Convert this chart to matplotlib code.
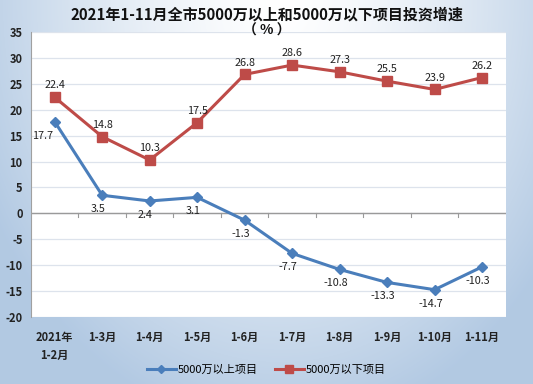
import numpy as np
import matplotlib
matplotlib.use("Agg")
import matplotlib.pyplot as plt

plt.rcParams['font.family'] = ['Noto Sans CJK SC', 'DejaVu Sans']

# -----------------------------
# Data
# -----------------------------
categories = ["2021年\n1-2月", "1-3月", "1-4月", "1-5月", "1-6月",
              "1-7月", "1-8月", "1-9月", "1-10月", "1-11月"]
above_5000 = [17.7, 3.5, 2.4, 3.1, -1.3, -7.7, -10.8, -13.3, -14.7, -10.3]
below_5000 = [22.4, 14.8, 10.3, 17.5, 26.8, 28.6, 27.3, 25.5, 23.9, 26.2]
yticks = list(range(-20, 40, 5))

BLUE = "#4a7ebb"
RED = "#be4b48"

fig = plt.figure(figsize=(5.33, 3.84), dpi=100)

# gradient background (white at top centre, blue to the edges)
bg = fig.add_axes([0, 0, 1, 1], zorder=-10)
h, w = 384, 533
yy, xx = np.mgrid[0:h, 0:w]
d = np.sqrt(((xx - 280) / 330.0) ** 2 + ((yy - 0) / 430.0) ** 2)
t = np.clip(d, 0, 1) ** 1.4
white = np.array([1.0, 1.0, 1.0])
blue = np.array([0.70, 0.79, 0.89])
img = white[None, None, :] * (1 - t[..., None]) + blue[None, None, :] * t[..., None]
bg.imshow(img, aspect="auto", extent=[0, 1, 0, 1], origin="upper")
bg.axis("off")

ax = fig.add_axes([0.058, 0.174, 0.891, 0.743])
ax.set_facecolor("white")
x = np.arange(len(categories))

ax.set_ylim(-20, 35)
ax.set_xlim(-0.5, len(categories) - 0.5)
ax.set_yticks(yticks)
ax.set_yticklabels([str(v) for v in yticks], fontsize=8, fontweight="bold", color="#222222")
ax.yaxis.grid(True, color="#dde3ec", linewidth=0.9)
ax.set_axisbelow(True)
ax.tick_params(axis="y", length=0, pad=6)

for s in ["top", "right", "bottom"]:
    ax.spines[s].set_visible(False)
ax.spines["left"].set_color("#a0a0a0")

# zero line with category tick marks
ax.axhline(0, color="#9a9a9a", linewidth=1.0, zorder=1)
for b in np.arange(0.5, len(categories) - 0.5, 1.0):
    ax.plot([b, b], [0, -0.6], color="#9a9a9a", linewidth=0.8, zorder=1)

ax.set_xticks(x)
ax.set_xticklabels(categories, fontsize=8, fontweight="bold", color="#222222",
                   linespacing=1.45, va="top")
ax.tick_params(axis="x", length=0, pad=10)

l1, = ax.plot(x, above_5000, color=BLUE, linewidth=2.2, marker="D",
              markersize=5, label="5000万以上项目", zorder=3)
l2, = ax.plot(x, below_5000, color=RED, linewidth=2.2, marker="s",
              markersize=7, label="5000万以下项目", zorder=3)

for i, v in enumerate(above_5000):
    if i == 0:
        ax.annotate(f"{v}", (x[i], v), xytext=(-9, -10), textcoords="offset points",
                    ha="center", va="center", fontsize=7.8, color="#222222")
    else:
        ax.annotate(f"{v}", (x[i], v), xytext=(-3, -10), textcoords="offset points",
                    ha="center", va="center", fontsize=7.8, color="#222222")
for i, v in enumerate(below_5000):
    ax.annotate(f"{v}", (x[i], v), xytext=(0, 8.5), textcoords="offset points",
                ha="center", va="center", fontsize=7.8, color="#222222")

fig.text(0.5, 0.962, "2021年1-11月全市5000万以上和5000万以下项目投资增速",
         ha="center", va="center", fontsize=10.8, fontweight="bold", color="#111111")
fig.text(0.5, 0.92, "（ % ）", ha="center", va="center", fontsize=10,
         fontweight="bold", color="#111111")

fig.legend(handles=[l1, l2], loc="center", bbox_to_anchor=(0.5, 0.037), ncol=2,
           frameon=False, fontsize=8, handlelength=2.6, columnspacing=1.5,
           handletextpad=0.2, markerscale=0.9)

fig.savefig("out.png", dpi=100)
